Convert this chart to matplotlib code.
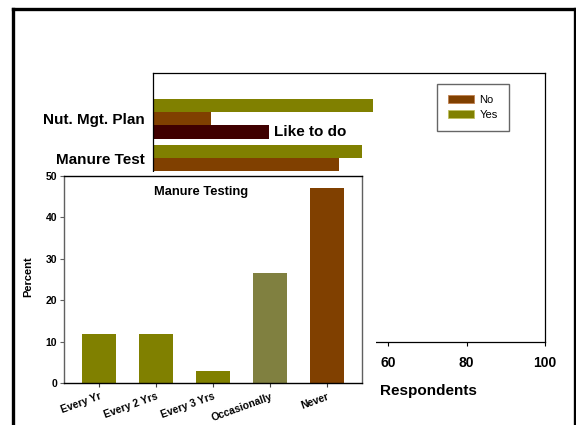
import matplotlib
matplotlib.use("Agg")
import matplotlib.pyplot as plt
from matplotlib.patches import Rectangle, Patch
from matplotlib.lines import Line2D

plt.rcParams['font.family'] = ['Liberation Sans', 'DejaVu Sans']

# ---- data: main horizontal bar chart (Respondents) ----
main_categories = ["Nut. Mgt. Plan", "Manure Test"]
main_yes = [56.2, 53.2]
main_no = [14.7, 47.3]
like_to_do = [29.5]          # only for Nut. Mgt. Plan
main_xticks = [0, 20, 40, 60, 80, 100]

# ---- data: inset (Manure Testing) ----
inset_categories = ["Every Yr", "Every 2 Yrs", "Every 3 Yrs", "Occasionally", "Never"]
inset_values = [11.8, 11.8, 3.0, 26.5, 47.2]
inset_yticks = [0, 10, 20, 30, 40, 50]

OLIVE = "#808000"
BROWN = "#804000"
MAROON = "#400000"
OLIVE_GRAY = "#808040"

W, H = 576, 425
fig = plt.figure(figsize=(W / 100, H / 100), dpi=100)

def fx(px):
    return px / W

def fy(py):
    return 1 - py / H

# ---------- main axes ----------
ax = fig.add_axes([fx(153.4), fy(341.7), fx(545) - fx(153.4), fy(73) - fy(341.7)])
ax.set_zorder(0)
ax.set_xlim(0, 100)
ax.set_ylim(20.16, 0)   # inverted, units = bar heights

cat_pos = [3.43, 6.38]
ax.barh(cat_pos[0] - 1.0, main_yes[0], height=1.0, color=OLIVE)
ax.barh(cat_pos[0], main_no[0], height=1.0, color=BROWN)
ax.barh(cat_pos[0] + 1.0, like_to_do[0], height=1.0, color=MAROON)
ax.barh(cat_pos[1] - 0.5, main_yes[1], height=1.0, color=OLIVE)
ax.barh(cat_pos[1] + 0.5, main_no[1], height=1.0, color=BROWN)
ax.text(like_to_do[0] + 1.2, cat_pos[0] + 1.0, "Like to do", fontsize=11,
        fontweight='bold', va='center', ha='left')

ax.set_yticks(cat_pos)
ax.set_yticklabels(main_categories, fontsize=11, fontweight='bold')
ax.tick_params(axis='y', length=0, pad=6)
ax.set_xticks(main_xticks)
ax.set_xticklabels([str(v) for v in main_xticks], fontsize=10, fontweight='bold')
ax.tick_params(axis='x', direction='out', length=3, width=0.8, pad=7)
for s in ax.spines.values():
    s.set_linewidth(0.9)
    s.set_color('black')

leg = ax.legend(handles=[Patch(facecolor=BROWN, edgecolor='#c08050', linewidth=0.6, label='No'),
                         Patch(facecolor=OLIVE, edgecolor='#c0c060', linewidth=0.6, label='Yes')],
                loc='upper left', bbox_to_anchor=(fx(437), fy(83.5)),
                bbox_transform=fig.transFigure, fontsize=8, frameon=True,
                fancybox=False, edgecolor='#404040', borderaxespad=0,
                handlelength=2.3, handleheight=0.8, handletextpad=0.5,
                labelspacing=0.45, borderpad=1.0)
leg.get_frame().set_linewidth(1.0)

fig.text(fx(428), fy(391), "Respondents", fontsize=11, fontweight='bold',
         ha='center', va='center')

# white panel of the embedded inset chart
fig.patches.append(Rectangle((fx(14), 0), fx(376) - fx(14), fy(172),
                             transform=fig.transFigure, facecolor='white',
                             edgecolor='none', zorder=1))

# ---------- inset axes ----------
ax2 = fig.add_axes([fx(64.3), fy(383), fx(361.7) - fx(64.3), fy(176) - fy(383)])
ax2.set_zorder(2)
xpos = list(range(len(inset_categories)))
ax2.bar(xpos, inset_values, width=0.61,
        color=[OLIVE, OLIVE, OLIVE, OLIVE_GRAY, BROWN])
ax2.set_xlim(-0.61, len(inset_categories) - 1 + 0.61)
ax2.set_ylim(0, 50)
ax2.set_yticks(inset_yticks)
ax2.set_yticklabels([str(v) for v in inset_yticks], fontsize=7.5, fontweight='bold')
ax2.set_xticks(xpos)
ax2.set_xticklabels(inset_categories, fontsize=7.5, fontweight='bold',
                    rotation=20, ha='right', rotation_mode='anchor', va='top')
ax2.tick_params(axis='y', direction='out', length=3, width=0.8, pad=2, color='#606060')
ax2.tick_params(axis='x', direction='out', length=3, width=0.8, pad=3, color='#404040')
ax2.spines['left'].set_color('#606060')
ax2.spines['right'].set_color('#606060')
ax2.spines['top'].set_color('black')
ax2.spines['bottom'].set_color('black')
for s in ax2.spines.values():
    s.set_linewidth(1.0)
ax2.text(0.46, 0.924, "Manure Testing", transform=ax2.transAxes, fontsize=9.3,
         fontweight='bold', ha='center', va='center')

fig.text(fx(28), fy(277), "Percent", fontsize=8, fontweight='bold', rotation=90,
         ha='center', va='center')

# ---------- slide frame (left, top, right) ----------
for (x0, y0, x1, y1) in [(12.5, 425, 12.5, 8.5), (12.5, 8.5, 574.5, 8.5), (574.5, 8.5, 574.5, 425)]:
    fig.add_artist(Line2D([fx(x0), fx(x1)], [fy(y0), fy(y1)], transform=fig.transFigure,
                          color='black', linewidth=2.4, zorder=5, solid_capstyle='projecting'))

fig.savefig("out.png", dpi=100)
